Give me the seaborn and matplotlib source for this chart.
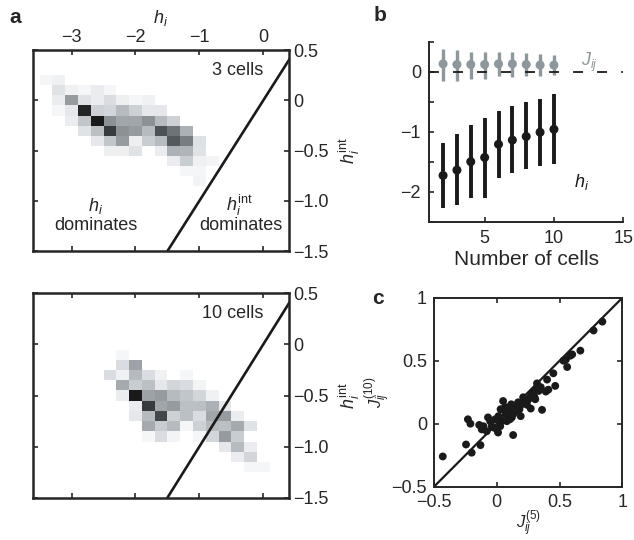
import numpy as np
import pandas as pd
import matplotlib
matplotlib.use('Agg')
import matplotlib.pyplot as plt
from matplotlib.colors import LinearSegmentedColormap
import seaborn as sns

sns.set_style('ticks')
plt.rcParams['font.family'] = ['Liberation Sans', 'DejaVu Sans']
plt.rcParams['mathtext.fontset'] = 'custom'
plt.rcParams['mathtext.rm'] = 'Liberation Sans'
plt.rcParams['mathtext.it'] = 'Liberation Sans:italic'
plt.rcParams['xtick.direction'] = 'in'
plt.rcParams['ytick.direction'] = 'in'
plt.rcParams['axes.linewidth'] = 1.4

# ---- panel a: 2D histograms of h_i vs h_i^int (grey level, 0..1) ----
hist_3cells = [
    [.04, .06, 0, 0, 0, 0, 0, 0, 0, 0, 0, 0, 0, 0],
    [0, .12, .06, .04, .08, .04, 0, 0, 0, 0, 0, 0, 0, 0],
    [0, .08, .45, .12, .08, .15, .07, .04, .06, 0, 0, 0, 0, 0],
    [0, .04, .10, .95, .20, .18, .30, .20, .10, .10, 0, 0, 0, 0],
    [0, 0, .08, .25, 1.0, .50, .40, .40, .50, .30, .20, 0, 0, 0],
    [0, 0, 0, .12, .28, .85, .50, .45, .30, .75, .62, .35, 0, 0],
    [0, 0, 0, 0, .10, .25, .45, .07, .22, .30, .72, .58, .13, 0],
    [0, 0, 0, 0, 0, .07, .07, .12, 0, .08, .35, .33, .12, 0],
    [0, 0, 0, 0, 0, 0, 0, 0, 0, 0, .08, .22, .06, .05],
    [0, 0, 0, 0, 0, 0, 0, 0, 0, 0, 0, .04, .04, 0],
    [0, 0, 0, 0, 0, 0, 0, 0, 0, 0, 0, 0, .05, 0],
]
hist_3_x0, hist_3_ytop = -3.5, 0.25

hist_10cells = [
    [0, .04, 0, 0, 0, 0, 0, 0, 0, 0, 0, 0, 0],
    [0, .15, .42, 0, 0, 0, 0, 0, 0, 0, 0, 0, 0],
    [.15, .06, .30, .15, .06, 0, .04, 0, 0, 0, 0, 0, 0],
    [0, .38, .22, .28, .10, .18, .15, .05, 0, 0, 0, 0, 0],
    [0, .08, 1.0, .42, .45, .30, .25, .18, .06, 0, 0, 0, 0],
    [0, 0, .08, .85, .40, .45, .28, .28, .35, .10, 0, 0, 0],
    [0, 0, .10, .30, .80, .20, .28, .15, .40, .45, .08, 0, 0],
    [0, 0, 0, .38, .22, .30, .04, .20, .30, .28, .38, .12, 0],
    [0, 0, 0, .04, .15, .05, 0, .04, .18, .45, .22, 0, 0],
    [0, 0, 0, 0, 0, 0, 0, 0, 0, .10, .30, .08, 0],
    [0, 0, 0, 0, 0, 0, 0, 0, 0, 0, .08, .18, 0],
    [0, 0, 0, 0, 0, 0, 0, 0, 0, 0, 0, .04, .04],
]
hist_10_x0, hist_10_ytop = -2.5, -0.05
bin_w, bin_h = 0.2, 0.1

# ---- panel b: mean +- sd of fields and couplings vs number of cells ----
n_cells = [2, 3, 4, 5, 6, 7, 8, 9, 10]
h_mean = [-1.73, -1.64, -1.50, -1.43, -1.21, -1.14, -1.08, -1.01, -0.96]
h_low = [-2.27, -2.23, -2.11, -2.10, -1.77, -1.69, -1.63, -1.58, -1.54]
h_high = [-1.19, -1.04, -0.89, -0.78, -0.66, -0.57, -0.51, -0.45, -0.38]
j_mean = [0.13, 0.12, 0.12, 0.12, 0.13, 0.13, 0.12, 0.11, 0.11]
j_low = [-0.15, -0.15, -0.12, -0.12, -0.08, -0.09, -0.08, -0.08, -0.05]
j_high = [0.37, 0.36, 0.33, 0.33, 0.32, 0.32, 0.31, 0.29, 0.28]

# ---- panel c: couplings from 5-cell vs 10-cell fits ----
j5 = [-0.43, -0.245, -0.20, -0.13, -0.23, -0.21, -0.14, -0.12, -0.08, -0.07,
      -0.04, 0.0, 0.01, 0.13, 0.04, 0.03, 0.05, 0.07, 0.10, 0.12,
      0.15, 0.17, 0.19, 0.21, 0.24, 0.27, 0.27, 0.29, 0.32, 0.30,
      0.36, 0.35, 0.40, 0.39, 0.465, 0.41, 0.45, 0.53, 0.56, 0.585,
      0.665, 0.55, 0.77, 0.84, 0.60, 0.066, 0.09, 0.13, 0.145, 0.165,
      0.20, 0.226, 0.25, 0.105, 0.08, 0.013, -0.013, 0.066, 0.115, 0.18,
      -0.106, -0.053, -0.027, 0.306, 0.333, 0.027, 0.32]
j10 = [-0.26, -0.165, -0.23, -0.17, 0.035, 0.0, -0.01, -0.045, -0.06, 0.05,
       -0.02, -0.045, -0.07, -0.09, 0.02, 0.115, 0.18, 0.075, 0.13, 0.05,
       0.10, 0.17, 0.06, 0.21, 0.15, 0.22, 0.12, 0.25, 0.32, 0.21,
       0.11, 0.29, 0.35, 0.255, 0.30, 0.27, 0.40, 0.50, 0.45, 0.54,
       0.58, 0.51, 0.74, 0.81, 0.55, 0.10, 0.088, 0.075, 0.14, 0.13,
       0.155, 0.18, 0.19, 0.035, 0.02, 0.06, 0.035, 0.133, 0.154, 0.114,
       -0.02, 0.02, -0.03, 0.194, 0.26, -0.02, 0.28]

TS = 13
grey_cmap = LinearSegmentedColormap.from_list(
    'g', [(0, '#ffffff'), (0.1, '#e4e7ea'), (0.3, '#b6bbc0'), (0.5, '#8b9196'),
          (0.75, '#4c5255'), (1.0, '#1a1a1a')])

fig = plt.figure(figsize=(6.34, 5.4), dpi=100)


def hist_panel(ax, mat, x0, ytop, label):
    mat = np.array(mat)
    xe = x0 + bin_w * np.arange(mat.shape[1] + 1)
    ye = ytop - bin_h * np.arange(mat.shape[0] + 1)
    ax.pcolormesh(xe, ye, np.ma.masked_equal(mat, 0), cmap=grey_cmap, vmin=0, vmax=1)
    ax.plot([-1.5, 0.5], [-1.5, 0.5], color='#1a1a1a', lw=1.9)
    ax.set_xlim(-3.6, 0.4)
    ax.set_ylim(-1.5, 0.5)
    ax.set_xticks([-3, -2, -1, 0])
    ax.set_yticks([0.5, 0, -0.5, -1.0, -1.5])
    ax.set_yticklabels(['0.5', '0', '\u22120.5', '\u22121.0', '\u22121.5'])
    ax.tick_params(top=True, bottom=True, left=True, right=True,
                   labelleft=False, labelright=True, labelbottom=False,
                   labelsize=TS, length=3.5, width=1.2, pad=3)
    ax.yaxis.set_label_position('right')
    ax.set_ylabel(r'$h_i^{\rm int}$', fontsize=TS, labelpad=6)
    ax.text(0.0, 0.3, label, ha='right', va='center', fontsize=TS)
    for s in ax.spines.values():
        s.set_linewidth(1.8)


ax_a1 = fig.add_axes([0.0525, 0.535, 0.403, 0.372])
hist_panel(ax_a1, hist_3cells, hist_3_x0, hist_3_ytop, '3 cells')
ax_a1.tick_params(labeltop=True)
ax_a1.set_xticklabels(['\u22123', '\u22122', '\u22121', '0'])
ax_a1.xaxis.set_label_position('top')
ax_a1.set_xlabel(r'$h_i$', fontsize=TS, labelpad=4)
ax_a1.text(-2.62, -1.05, r'$h_i$', ha='center', va='center', fontsize=TS)
ax_a1.text(-2.62, -1.25, 'dominates', ha='center', va='center', fontsize=TS)
ax_a1.text(-0.37, -1.05, r'$h_i^{\rm int}$', ha='center', va='center', fontsize=TS)
ax_a1.text(-0.35, -1.25, 'dominates', ha='center', va='center', fontsize=TS)

ax_a2 = fig.add_axes([0.0525, 0.0783, 0.403, 0.3785])
hist_panel(ax_a2, hist_10cells, hist_10_x0, hist_10_ytop, '10 cells')

# ---- panel b ----
ax_b = fig.add_axes([0.677, 0.5895, 0.306, 0.3333])
jcol = '#8d989c'
ax_b.vlines(n_cells, j_low, j_high, color=jcol, lw=2.4, zorder=2)
ax_b.axhline(0, color='#1a1a1a', lw=1.3, dashes=(5.5, 7.8), zorder=2.5)
ax_b.vlines(n_cells, h_low, h_high, color='#1a1a1a', lw=2.8, zorder=2)
df_b = pd.DataFrame({'n': n_cells * 2, 'v': j_mean + h_mean,
                     'kind': ['J'] * len(n_cells) + ['h'] * len(n_cells)})
sns.scatterplot(data=df_b, x='n', y='v', hue='kind', palette={'J': jcol, 'h': '#1a1a1a'},
                s=42, edgecolor='none', legend=False, ax=ax_b, zorder=3)
ax_b.set_xlim(1, 15)
ax_b.set_ylim(-2.5, 0.5)
ax_b.set_xticks([5, 10, 15])
ax_b.set_yticks([-2.5, -2, -1.5, -1, -0.5, 0, 0.5])
ax_b.set_yticklabels(['', '\u22122', '', '\u22121', '', '0', ''])
ax_b.tick_params(labelsize=TS, length=3.5, width=1.2, pad=6)
ax_b.set_xlabel('Number of cells', fontsize=15, labelpad=2)
ax_b.set_ylabel('')
sns.despine(ax=ax_b)
ax_b.text(12.6, 0.15, r'$J_{ij}$', color=jcol, fontsize=TS, ha='center', va='center')
ax_b.text(12.0, -1.84, r'$h_i$', color='#1a1a1a', fontsize=TS, ha='center', va='center')

# ---- panel c ----
ax_c = fig.add_axes([0.6845, 0.0987, 0.2973, 0.35])
ax_c.plot([-0.5, 1], [-0.5, 1], color='#1a1a1a', lw=1.6)
sns.scatterplot(x=j5, y=j10, color='#1a1a1a', s=32, edgecolor='none', ax=ax_c, zorder=3)
ax_c.set_xlim(-0.5, 1)
ax_c.set_ylim(-0.5, 1)
ax_c.set_xticks([-0.5, 0, 0.5, 1])
ax_c.set_yticks([-0.5, 0, 0.5, 1])
ax_c.set_xticklabels(['\u22120.5', '0', '0.5', '1'])
ax_c.set_yticklabels(['\u22120.5', '0', '0.5', '1'])
ax_c.tick_params(top=True, right=True, labelsize=TS, length=3.5, width=1.2, pad=5)
ax_c.set_xlabel(r'$J_{ij}^{(5)}$', fontsize=12)
ax_c.set_ylabel(r'$J_{ij}^{(10)}$', fontsize=12)
ax_c.xaxis.set_label_coords(0.5, -0.115)
ax_c.yaxis.set_label_coords(-0.215, 0.5)

fig.text(0.024, 0.967, 'a', fontsize=15, weight='bold', ha='center', va='center')
fig.text(0.599, 0.972, 'b', fontsize=15, weight='bold', ha='center', va='center')
fig.text(0.596, 0.448, 'c', fontsize=15, weight='bold', ha='center', va='center')

fig.savefig('out.png', dpi=100)
